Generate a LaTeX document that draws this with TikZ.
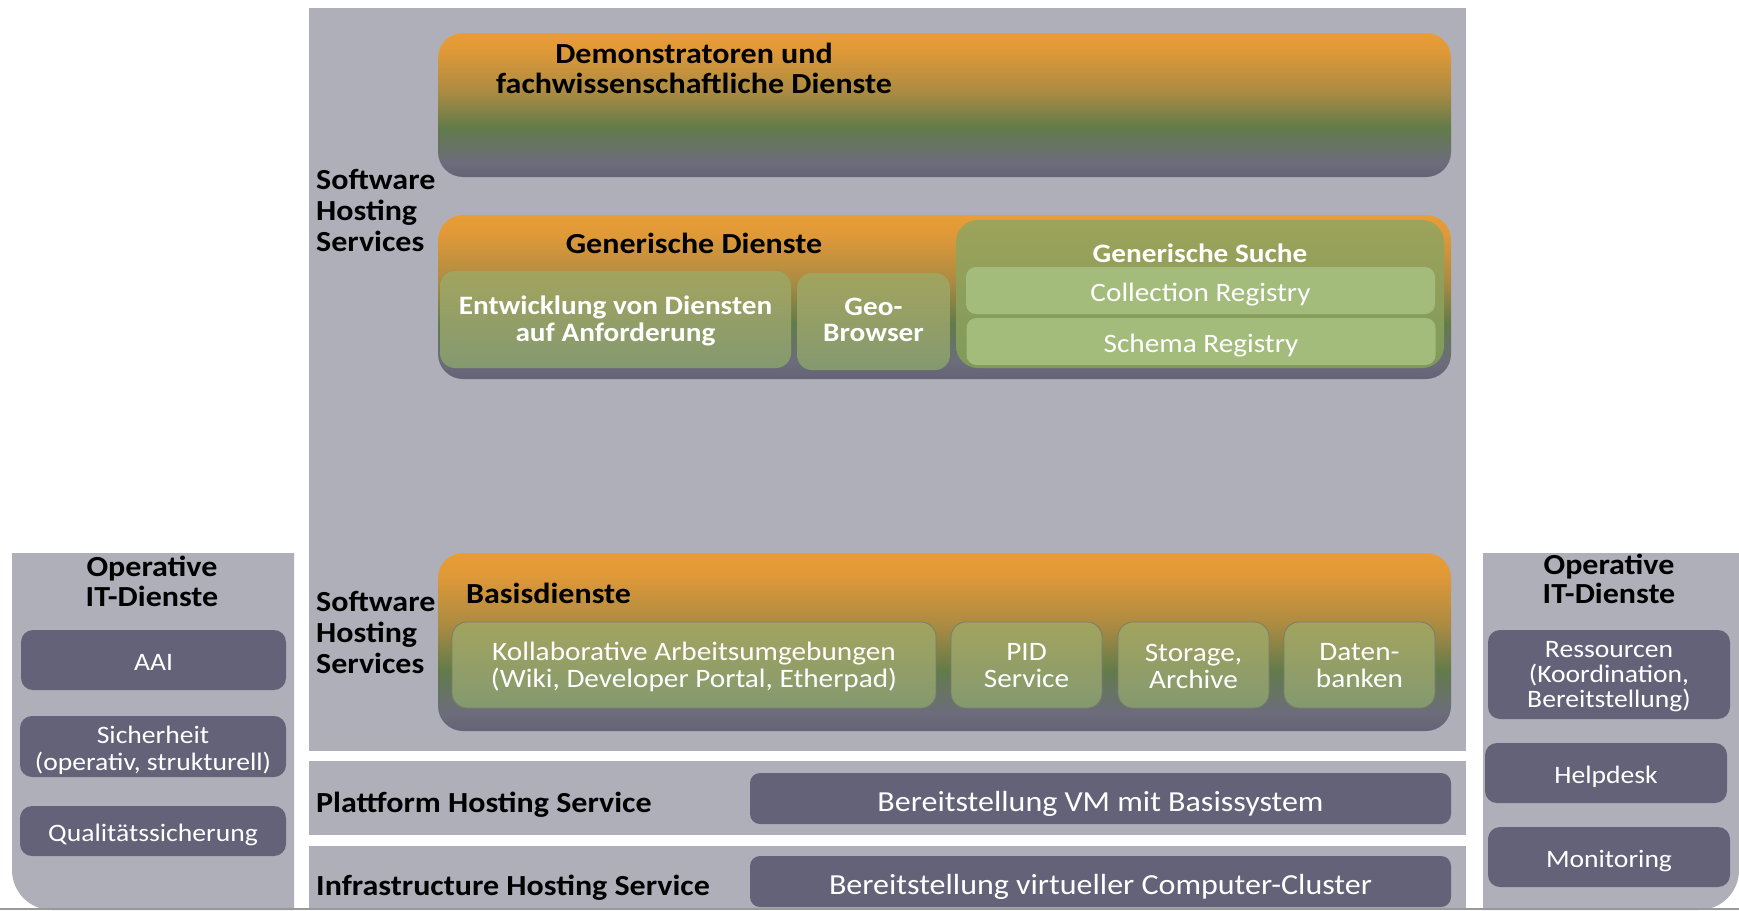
\documentclass[tikz,border=0pt]{standalone}
\usepackage{fontspec}
\setmainfont{Carlito}[FakeStretch=1.1]
\definecolor{bggray}{RGB}{175,175,186}
\definecolor{darkbox}{RGB}{99,98,121}
\definecolor{otop}{RGB}{232,157,53}
\definecolor{oorange}{RGB}{224,153,56}
\definecolor{obrown}{RGB}{172,139,66}
\definecolor{ogreen}{RGB}{98,123,74}
\definecolor{ogray}{RGB}{108,108,124}
\definecolor{obot}{RGB}{100,99,118}
\definecolor{gtop}{RGB}{162,164,94}
\definecolor{gbot}{RGB}{132,153,112}
\definecolor{suchtop}{RGB}{157,163,90}
\definecolor{suchbot}{RGB}{126,154,91}
\definecolor{regfill}{RGB}{163,188,123}
\definecolor{boxline}{RGB}{120,125,110}
\pgfdeclareverticalshading{orgbox}{100bp}{color(0bp)=(obot); color(25bp)=(obot); color(30bp)=(ogray); color(42bp)=(ogreen); color(55bp)=(obrown); color(69bp)=(oorange); color(75bp)=(otop); color(100bp)=(otop)}
\newcommand{\FA}{\fontsize{29.1}{30.5}\selectfont}
\newcommand{\FB}{\fontsize{26.6}{27}\selectfont}
\newcommand{\FC}{\fontsize{25.1}{26}\selectfont}
\tikzset{
  panel/.style={fill=bggray, draw=none},
  bigbox/.style={shading=orgbox, rounded corners=25, draw=none, inner sep=0, minimum width=1013, minimum height=#1},
  greenbox/.style={top color=gtop, bottom color=gbot, rounded corners=15, draw=none, inner sep=0},
  greenboxl/.style={greenbox, draw=boxline, line width=0.8},
  intext/.style={text=white, align=center, inner sep=0},
  regbox/.style={fill=regfill, rounded corners=10, draw=none, text=white, align=center, inner sep=0, minimum width=469, minimum height=47, font=\FB, text height=21pt, text depth=0pt},
  darkbx/.style={fill=darkbox, rounded corners=12, draw=none, inner sep=0},
  darkitem/.style={darkbx, text=white, align=center, font=\FC, text height=20pt, text depth=0pt},
  darkwide/.style={fill=darkbox, rounded corners=10, draw=none, text=white, align=center, inner sep=0, minimum width=701, minimum height=51, font=\FA, text height=25pt, text depth=0pt},
  blabel/.style={font=\FA\bfseries, text=black, inner sep=0},
}
\begin{document}
\begin{tikzpicture}[x=1pt, y=-1pt]
\useasboundingbox (0,0) rectangle (1739,910);
\fill[white] (0,0) rectangle (1739,910);
% panels
\fill[panel] (309,8) rectangle (1466,751);
\fill[panel] (309,761) rectangle (1466,835);
\fill[panel] (309,846) rectangle (1466,910);
\fill[panel] (294,553) -- (12,553) -- (12,870) arc[start angle=180, end angle=90, radius=40] -- (294,910) -- cycle;
\fill[panel] (1483,553) -- (1739,553) -- (1739,870) arc[start angle=0, end angle=90, radius=40] -- (1483,910) -- cycle;
\draw[gray!80, line width=1.5] (0,909) -- (1739,909);

% side labels
\node[blabel, align=left, anchor=west, font=\fontsize{29.1}{31}\selectfont\bfseries] (shs1) at (316,210) {Software\\Hosting\\Services};
\node[blabel, align=left, anchor=west, font=\fontsize{29.1}{31}\selectfont\bfseries] (shs2) at (316,632) {Software\\Hosting\\Services};
\node[blabel, anchor=west] (phs) at (316,804.5) {Plattform Hosting Service};
\node[blabel, anchor=west] (ihs) at (316,887.5) {Infrastructure Hosting Service};

% Demonstratoren box
\node[bigbox=144] (demo) at (944.5,105) {};
\node[blabel, align=center, font=\fontsize{29.1}{30}\selectfont\bfseries] (demot) at (694,68) {Demonstratoren und\\fachwissenschaftliche Dienste};

% Generische Dienste box
\node[bigbox=164] (gen) at (944.5,297) {};
\node[blabel] (gent) at (694,243) {Generische Dienste};
\node[greenbox, minimum width=351, minimum height=97] (entw) at (615.5,319.5) {};
\node[intext, font=\FB\bfseries] (entwt) at ([yshift=-1]entw.center) {Entwicklung von Diensten\\auf Anforderung};
\node[greenbox, minimum width=153, minimum height=97] (geo) at (873.5,321.5) {};
\node[intext, font=\fontsize{26.6}{26}\selectfont\bfseries] (geot) at ([yshift=2]geo.center) {Geo-\\Browser};
\node[top color=suchtop, bottom color=suchbot, rounded corners=22, inner sep=0, minimum width=488, minimum height=148] (such) at (1200,294) {};
\node[font=\FB\bfseries, text=white, inner sep=0] (sucht) at (1200,253) {Generische Suche};
\node[regbox] (coll) at (1200.5,290.5) {Collection Registry};
\node[regbox] (schema) at (1201,341.5) {Schema Registry};

% Basisdienste box
\node[bigbox=178] (basis) at (944.5,642) {};
\node[blabel, anchor=west] (basist) at (466,593) {Basisdienste};
\node[greenboxl, minimum width=484, minimum height=86] (koll) at (694,665) {};
\node[intext, font=\FB] (kollt) at ([yshift=-2]koll.center) {Kollaborative Arbeitsumgebungen\\(Wiki, Developer Portal, Etherpad)};
\node[greenboxl, minimum width=151, minimum height=86] (pid) at (1026.5,665) {};
\node[intext, font=\FB] (pidt) at ([yshift=-1]pid.center) {PID\\Service};
\node[greenboxl, minimum width=151, minimum height=86] (stor) at (1193.5,665) {};
\node[intext, font=\FB] (stort) at ([yshift=-1]stor.center) {Storage,\\Archive};
\node[greenboxl, minimum width=151, minimum height=86] (dat) at (1359.5,665) {};
\node[intext, font=\FB] (datt) at ([yshift=-1]dat.center) {Daten-\\banken};

% bottom bands
\node[darkwide] (vm) at (1100.5,798.5) {Bereitstellung VM mit Basissystem};
\node[darkwide] (cluster) at (1100.5,881.5) {Bereitstellung virtueller Computer-Cluster};

% left panel
\node[blabel, align=center, font=\fontsize{29.1}{30}\selectfont\bfseries] (opl) at (152,581) {Operative\\IT-Dienste};
\node[darkitem, minimum width=265, minimum height=60] (aai) at (153.5,660) {AAI};
\node[darkbx, minimum width=266, minimum height=61] (sich) at (153,746.5) {};
\node[intext, font=\fontsize{25.1}{27}\selectfont] (sicht) at ([yshift=-4]sich.center) {Sicherheit\\(operativ, strukturell)};
\node[darkitem, minimum width=266, minimum height=50] (qual) at (153,831) {Qualitätssicherung};

% right panel
\node[blabel, align=center, font=\fontsize{29.1}{29}\selectfont\bfseries] (opr) at (1609,579) {Operative\\IT-Dienste};
\node[darkbx, minimum width=242, minimum height=89] (res) at (1609,674.5) {};
\node[intext, font=\fontsize{25.1}{25}\selectfont] (rest) at ([yshift=-2.5]res.center) {Ressourcen\\(Koordination,\\Bereitstellung)};
\node[darkitem, minimum width=242, minimum height=60] (help) at (1606,773) {Helpdesk};
\node[darkitem, minimum width=242, minimum height=60] (mon) at (1609,857) {Monitoring};
\end{tikzpicture}
\end{document}
